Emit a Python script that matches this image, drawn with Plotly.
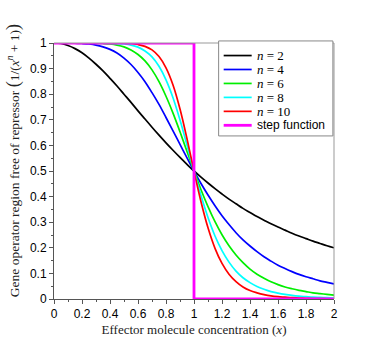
import plotly.graph_objects as go

x = [0, 0.05, 0.1, 0.15, 0.2, 0.25, 0.3, 0.35, 0.4, 0.45, 0.5, 0.55, 0.6, 0.65,
     0.7, 0.75, 0.8, 0.85, 0.9, 0.95, 1.0, 1.05, 1.1, 1.15, 1.2, 1.25, 1.3,
     1.35, 1.4, 1.45, 1.5, 1.55, 1.6, 1.65, 1.7, 1.75, 1.8, 1.85, 1.9, 1.95, 2.0]

y_n2 = [1, 0.998, 0.990, 0.978, 0.962, 0.941, 0.917, 0.891, 0.862, 0.832, 0.8,
        0.768, 0.735, 0.703, 0.671, 0.64, 0.610, 0.581, 0.553, 0.526, 0.5,
        0.476, 0.453, 0.431, 0.410, 0.390, 0.372, 0.354, 0.338, 0.322, 0.308,
        0.294, 0.281, 0.269, 0.257, 0.246, 0.236, 0.226, 0.217, 0.208, 0.2]
y_n4 = [1, 1, 1, 0.999, 0.998, 0.996, 0.992, 0.985, 0.975, 0.961, 0.941,
        0.916, 0.885, 0.849, 0.806, 0.760, 0.709, 0.657, 0.604, 0.551, 0.5,
        0.451, 0.406, 0.364, 0.325, 0.291, 0.259, 0.231, 0.207, 0.185, 0.165,
        0.148, 0.132, 0.119, 0.107, 0.096, 0.087, 0.079, 0.071, 0.065, 0.059]
y_n6 = [1, 1, 1, 1, 1, 1, 0.999, 0.998, 0.996, 0.992, 0.985,
        0.973, 0.955, 0.930, 0.895, 0.849, 0.792, 0.726, 0.653, 0.576, 0.5,
        0.427, 0.361, 0.302, 0.251, 0.208, 0.172, 0.142, 0.117, 0.097, 0.081,
        0.067, 0.056, 0.047, 0.040, 0.034, 0.029, 0.024, 0.021, 0.018, 0.015]
y_n8 = [1, 1, 1, 1, 1, 1, 1, 1, 0.999, 0.998, 0.996,
        0.992, 0.984, 0.969, 0.946, 0.909, 0.856, 0.786, 0.699, 0.601, 0.5,
        0.404, 0.318, 0.246, 0.189, 0.144, 0.109, 0.083, 0.064, 0.049, 0.038,
        0.029, 0.023, 0.018, 0.014, 0.011, 0.009, 0.007, 0.006, 0.005, 0.004]
y_n10 = [1, 1, 1, 1, 1, 1, 1, 1, 1, 1, 0.999,
         0.998, 0.994, 0.987, 0.973, 0.947, 0.903, 0.836, 0.742, 0.626, 0.5,
         0.380, 0.278, 0.198, 0.139, 0.097, 0.068, 0.047, 0.033, 0.024, 0.017,
         0.012, 0.009, 0.007, 0.005, 0.004, 0.003, 0.002, 0.002, 0.001, 0.001]

step_x = [0, 1, 1, 2]
step_y = [1, 1, 0, 0]

x_ticks = [0, 0.2, 0.4, 0.6, 0.8, 1, 1.2, 1.4, 1.6, 1.8, 2]
x_ticktext = ["0", "0.2", "0.4", "0.6", "0.8", "1", "1.2", "1.4", "1.6", "1.8", "2"]

series = [
    ("<i>n</i> = 2", y_n2, "#000000"),
    ("<i>n</i> = 4", y_n4, "#0000ff"),
    ("<i>n</i> = 6", y_n6, "#00ee00"),
    ("<i>n</i> = 8", y_n8, "#00ffff"),
    ("<i>n</i> = 10", y_n10, "#ff0000"),
]
step_col = "#ff00ff"

serif = "Liberation Serif"
sans = "Liberation Sans"

fig = go.Figure()
for name, ys, col in series:
    fig.add_trace(go.Scatter(x=x, y=ys, name=name, mode="lines", showlegend=False,
                             line=dict(color=col, width=1.7, shape="spline")))
fig.add_trace(go.Scatter(x=step_x, y=step_y, name="step function", mode="lines",
                         showlegend=False, line=dict(color=step_col, width=2.8)))

axis_common = dict(
    showline=True, linecolor="#555555", linewidth=1, mirror=False,
    ticks="outside", ticklen=4, tickcolor="#555555",
    showgrid=False, zeroline=False, automargin=False,
    tickfont=dict(family=sans, size=12, color="#000000"),
)

fig.update_layout(
    width=382, height=342,
    margin=dict(l=54, r=48, t=43, b=43),
    plot_bgcolor="white", paper_bgcolor="white",
    showlegend=False,
    xaxis=dict(range=[0, 2], tickvals=x_ticks, ticktext=x_ticktext,
               minor=dict(dtick=0.1, ticks="outside", ticklen=2, tickcolor="#555555"),
               title=dict(text="Effector molecule concentration (<i>x</i>)",
                          font=dict(family=serif, size=13, color="#222222"), standoff=4),
               **axis_common),
    yaxis=dict(range=[0, 1], dtick=0.1,
               minor=dict(dtick=0.05, ticks="outside", ticklen=2, tickcolor="#555555"),
               **axis_common),
)

# y title as a rotated annotation, shifted upward like the original
fig.add_annotation(
    xref="paper", yref="paper", x=-0.145, y=0.54, textangle=-90,
    showarrow=False, xanchor="center", yanchor="middle",
    text="Gene operator region free of repressor "
         "<span style='font-size:18px'>(</span>1/(<i>x<sup>n</sup></i> + 1)"
         "<span style='font-size:18px'>)</span>",
    font=dict(family=serif, size=13.5, color="#222222"),
)

# grey frame on top and right
fig.add_shape(type="line", xref="paper", yref="paper", x0=0, x1=1, y0=1, y1=1,
              line=dict(color="#999999", width=1))
fig.add_shape(type="line", xref="paper", yref="paper", x0=1, x1=1, y0=0, y1=1,
              line=dict(color="#999999", width=1))

# legend box drawn by hand to match the compact original
fig.add_shape(type="rect", xref="paper", yref="paper", x0=0.588, x1=0.996,
              y0=0.637, y1=1.008, line=dict(color="#888888", width=1),
              fillcolor="white", layer="above")
labels = [s[0] for s in series] + ["step function"]
colors = [s[2] for s in series] + [step_col]
for i, (lab, col) in enumerate(zip(labels, colors)):
    yy = 0.951 - i * 0.0545
    is_step = lab == "step function"
    fig.add_shape(type="line", xref="paper", yref="paper", x0=0.606, x1=0.706,
                  y0=yy, y1=yy, layer="above",
                  line=dict(color=col, width=2.8 if is_step else 1.7))
    fig.add_annotation(xref="paper", yref="paper", x=0.718, y=yy, text=lab,
                       showarrow=False, xanchor="left", yanchor="middle",
                       font=dict(family=sans if is_step else serif,
                                 size=12 if is_step else 13, color="#000000"))

# drop the browser's default page margin so the figure sits at the corner
fig.write_html("out.html", config={"displayModeBar": False},
               post_script="document.body.style.margin='0px';")
